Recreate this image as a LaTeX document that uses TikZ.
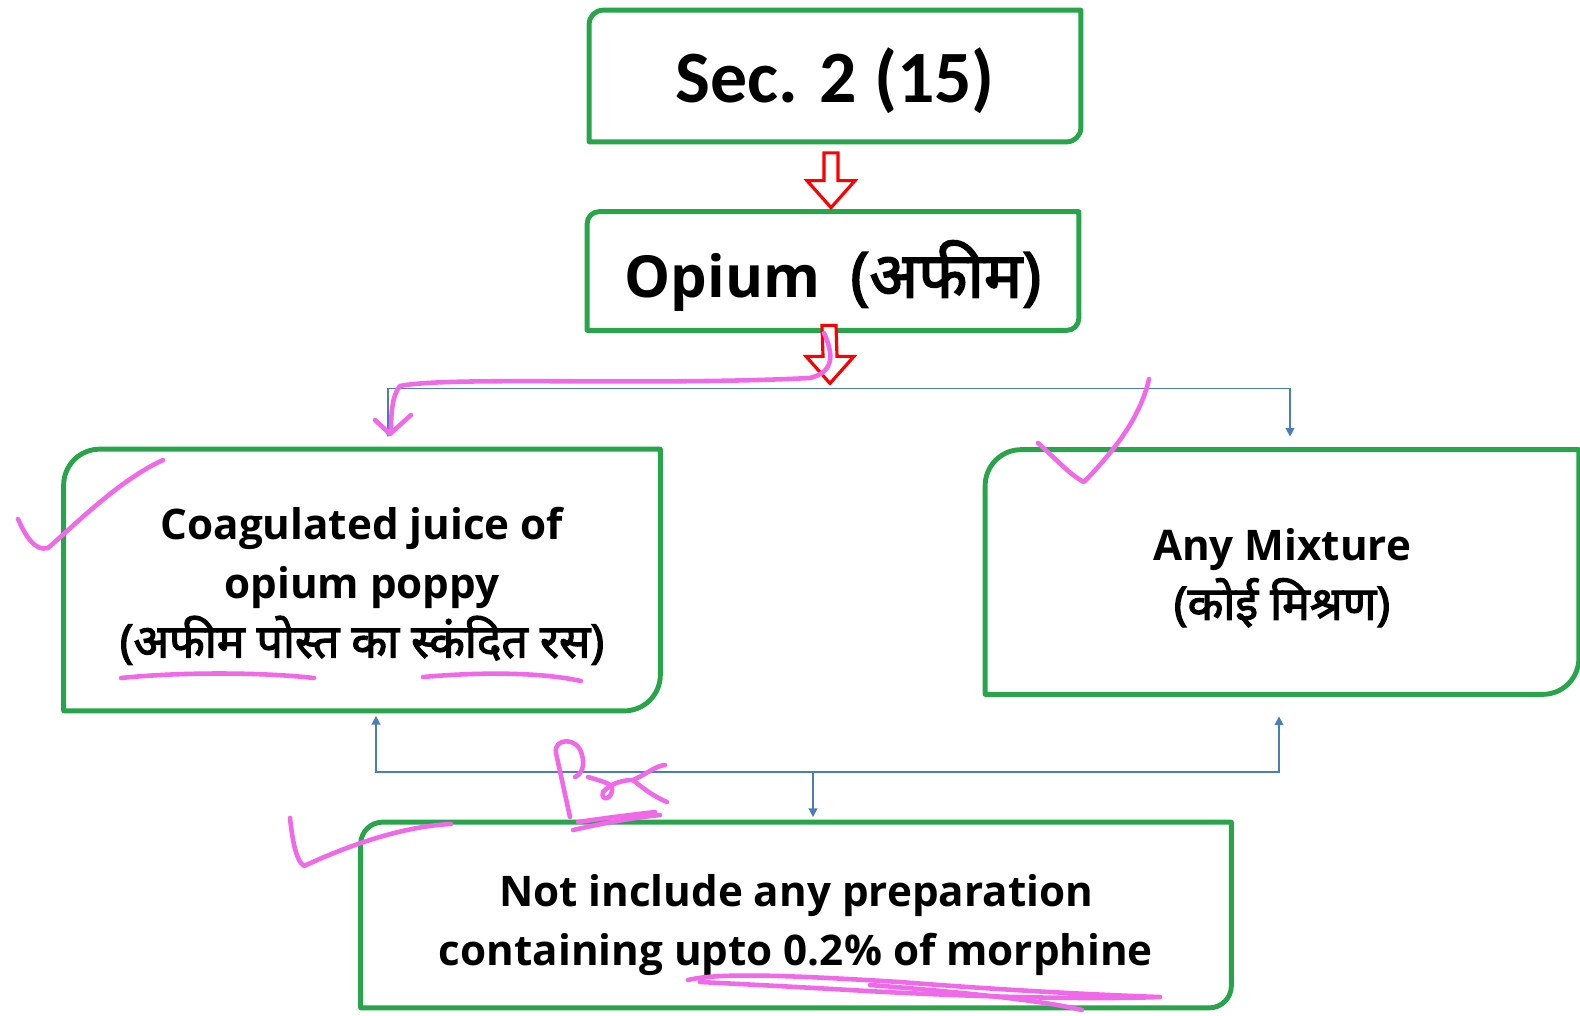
\documentclass[tikz,border=0pt]{standalone}
\usepackage{fontspec}
\setmainfont{Open Sans}
\newfontfamily\hindi[Script=Devanagari,Scale=1.1,BoldFont={Noto Sans},BoldFeatures={FakeBold=2.5}]{Noto Sans}
\newfontfamily\secfont{Carlito}
\usetikzlibrary{calc, arrows.meta}

\definecolor{boxgreen}{RGB}{40,165,75}
\definecolor{linkblue}{RGB}{74,126,187}
\definecolor{penpink}{RGB}{240,105,232}

% frame with two round corners (top left, bottom right)
\newcommand\diagframe[2]{%
  \draw[frame] (#1.south west) -- ($(#1.north west)+(0,#2)$)
    arc[start angle=180,end angle=270,radius=#2] -- (#1.north east)
    -- ($(#1.south east)+(0,-#2)$)
    arc[start angle=0,end angle=90,radius=#2] -- cycle;}
% hollow red arrow pointing down
\newcommand\hollowdown[2]{%
  \draw[redpen] ($(#1)+(-7,0)$) -- ($(#2)+(-7,-27)$) -- ($(#2)+(-24,-27)$)
    -- (#2) -- ($(#2)+(24,-27)$) -- ($(#2)+(7,-27)$) -- ($(#1)+(7,0)$) -- cycle;}

\begin{document}
\begin{tikzpicture}[x=0.02cm, y=-0.02cm,
  box/.style = {draw=none, inner sep=0pt, align=center,
    font=\bfseries\fontsize{24}{33.6}\selectfont},
  frame/.style = {draw=boxgreen, line width=2.8pt, line join=round},
  redpen/.style = {draw=red, line width=1.8pt, fill=white},
  link/.style = {draw=linkblue, line width=0.8pt, -{Triangle[length=5pt,width=5pt]}},
  pen/.style = {draw=penpink, line width=2.6pt, line cap=round, line join=round},
]
\useasboundingbox (0,0) rectangle (1580,1015);

\node (sec)[box, minimum width=491*0.02cm, minimum height=131*0.02cm] at (835,76) {};
\node[font=\secfont\bfseries\fontsize{42}{48}\selectfont] at ($(sec)+(0,5)$) {Sec. 2 (15)};
\node (opium)[box, minimum width=491*0.02cm, minimum height=118*0.02cm] at (833,271) {};
\node[font=\bfseries\fontsize{33}{40}\selectfont] at ($(opium)+(0,5)$)
  {Opium\ \ {\hindi (अफीम)}};
\node (coag)[box, minimum width=596*0.02cm, minimum height=261*0.02cm] at (362,580) {};
\node[box] at ($(coag)+(0,6)$)
  {Coagulated juice of\\ opium poppy\\ {\hindi (अफीम पोस्त का स्कंदित रस)}};
\node (mix)[box, minimum width=593*0.02cm, minimum height=244*0.02cm] at (1282,572) {};
\node[box] at ($(mix)+(0,6)$) {Any Mixture\\ {\hindi (कोई मिश्रण)}};
\node (notinc)[box, minimum width=870*0.02cm, minimum height=185*0.02cm] at (796,915) {};
\node[box] at ($(notinc)+(0,10)$)
  {Not include any preparation\\ containing upto 0.2\% of morphine};

\diagframe{sec}{14}
\diagframe{opium}{12}
\diagframe{coag}{36}
\diagframe{mix}{36}
\diagframe{notinc}{22}

% red arrows
\coordinate (t1) at ($(sec.south)+(-4,11)$);
\coordinate (h1) at ($(opium.north)+(-2,-4)$);
\coordinate (t2) at ($(opium.south)+(-4,-5)$);
\coordinate (split) at ($(opium.south)+(-3,58)$);
\coordinate (h2) at ($(split)+(0,-5)$);
\hollowdown{t1}{h1}
\hollowdown{t2}{h2}

% blue links
\draw[link] (split) -| ($(coag.north)+(26,-12)$);
\draw[link] (split) -| ($(mix.north)+(8,-13)$);
\coordinate (join) at ($(notinc.north)+(17,-50)$);
\draw[link] (join) -- ($(join |- notinc.north)+(0,-5)$);
\draw[link] (join) -| ($(coag.south)+(14,5)$);
\draw[link] (join) -| ($(mix.south)+(-3,22)$);

% pink marks
\draw[pen] (824,333) .. controls (834,355) and (834,372) .. (810,378)
  .. controls (650,386) and (450,376) .. (400,386) .. controls (392,395) and (391,415) .. (391,431);
\draw[pen] (375,420) -- (390,434) -- (411,415);
\draw[pen] (18,519) .. controls (25,535) and (35,552) .. (48,548)
  .. controls (80,520) and (120,480) .. (163,460);
\draw[pen] (121,678) .. controls (180,672) and (260,672) .. (314,678);
\draw[pen] (423,677) .. controls (480,672) and (540,672) .. (581,681);
\draw[pen] (1038,443) .. controls (1055,458) and (1070,475) .. (1084,482)
  .. controls (1110,455) and (1140,420) .. (1149,379);
\draw[pen] (290,818) .. controls (292,835) and (295,860) .. (304,866)
  .. controls (360,840) and (410,826) .. (451,824);
\draw[pen] (570,817) -- (556,753) .. controls (553,738) and (578,736) .. (582,755)
  .. controls (585,765) and (582,774) .. (575,777);
\draw[pen] (588,777) .. controls (598,780) and (606,782) .. (612,786)
  .. controls (614,800) and (600,802) .. (603,792) .. controls (612,782) and (625,780) .. (633,780)
  .. controls (645,775) and (655,766) .. (665,765);
\draw[pen] (633,780) .. controls (645,790) and (655,797) .. (667,802);
\draw[pen] (573,830) .. controls (600,824) and (630,818) .. (660,815);
\draw[pen] (578,822) .. controls (605,818) and (630,815) .. (655,812);
\draw[pen] (688,980) .. controls (720,972) and (800,976) .. (900,982)
  .. controls (1000,990) and (1100,995) .. (1160,997)
  .. controls (1080,1000) and (950,996) .. (850,990)
  .. controls (780,986) and (740,984) .. (700,982);
\draw[pen] (870,985) .. controls (960,992) and (1040,1000) .. (1082,1010);
\end{tikzpicture}
\end{document}
